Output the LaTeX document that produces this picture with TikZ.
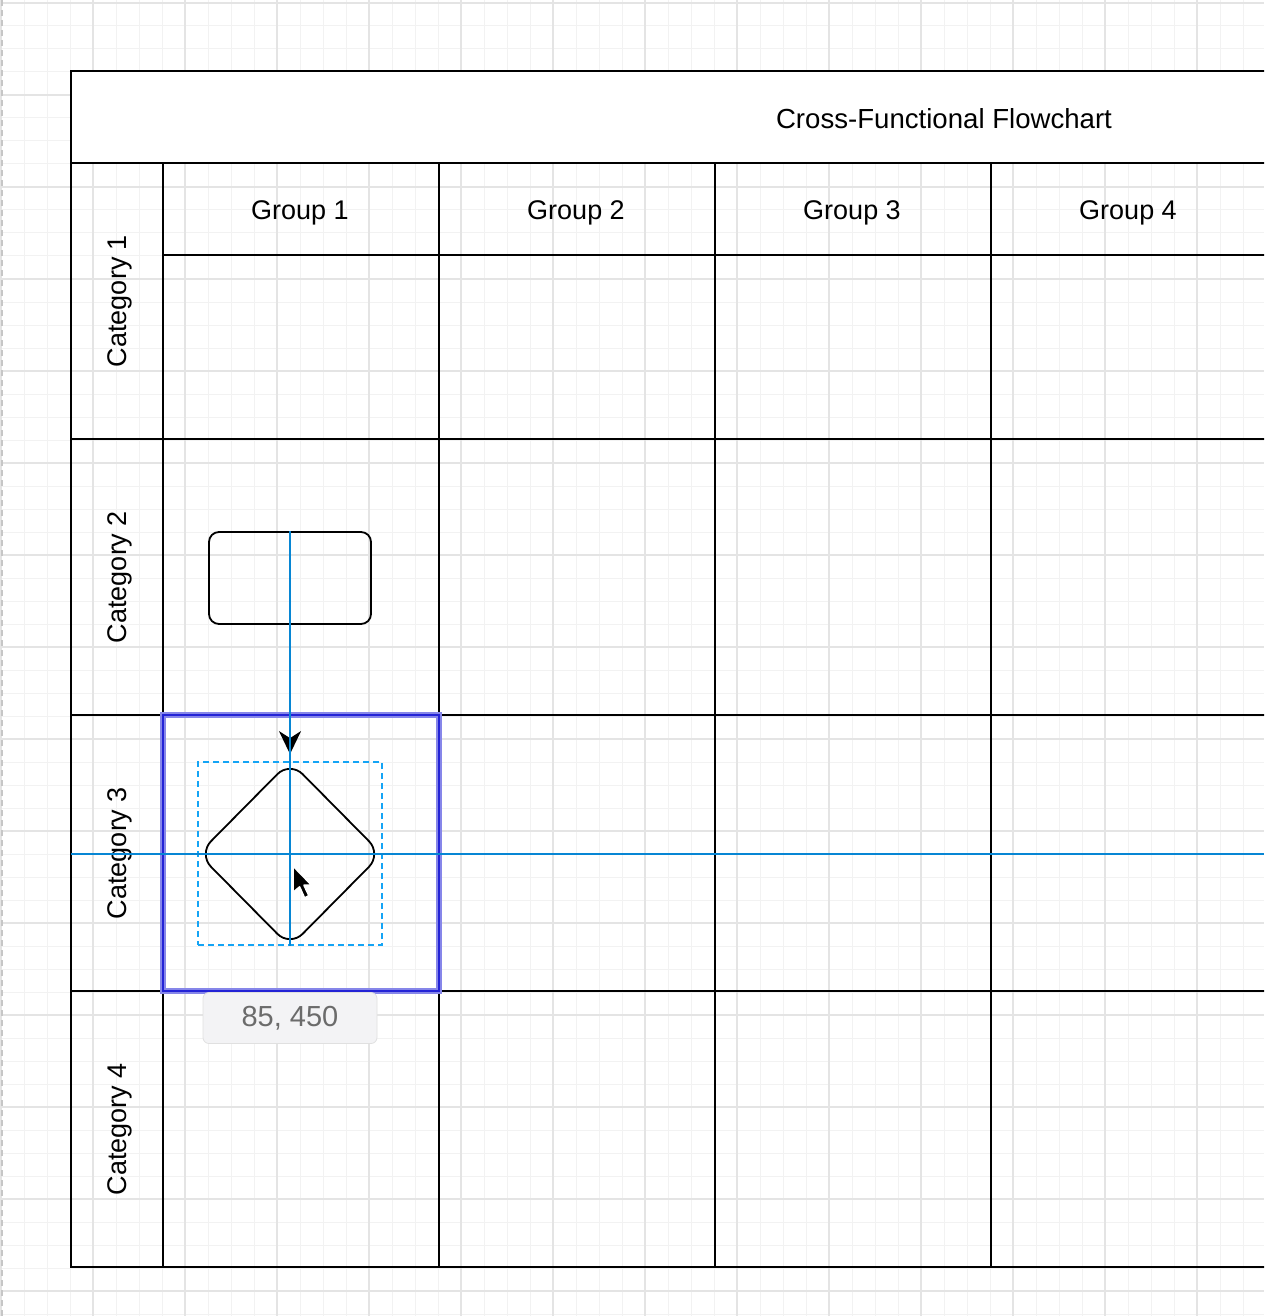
\documentclass[tikz,border=0pt]{standalone}
\usepackage{fontspec}
\setmainfont{Liberation Sans}
\usetikzlibrary{shapes.geometric}
\usetikzlibrary{arrows.meta}
\usepackage{xcolor}
\definecolor{gridminor}{HTML}{F2F2F2}
\definecolor{gridmajor}{HTML}{E4E4E4}
\definecolor{guideblue}{HTML}{0786D4}
\definecolor{selblue}{HTML}{14A4F5}
\definecolor{dropblue}{HTML}{2323D6}
\definecolor{tipfill}{HTML}{F3F3F5}
\definecolor{tipgray}{HTML}{6B6B6B}

\begin{document}
\begin{tikzpicture}[
    x=0.5pt, y=-0.5pt,
    lane/.style = {draw=black, line width=1pt},
    lbl/.style = {font=\fontsize{13.5}{16}\selectfont, inner sep=0pt},
    guide/.style = {draw=guideblue, line width=1pt},
    shp/.style = {draw=black, line width=0.9pt, inner sep=0pt}
                    ]
        \useasboundingbox (0,0) rectangle (1264,1316);
        \clip (0,0) rectangle (1264,1316);
        % background grid
        \fill[white] (0,0) rectangle (1264,1316);
        \foreach \gx in {1,24,...,1264}
            \draw[gridminor, line width=0.5pt] (\gx,0) -- (\gx,1316);
        \foreach \gy in {3,26,...,1316}
            \draw[gridminor, line width=0.5pt] (0,\gy) -- (1264,\gy);
        \foreach \gx in {1,93,...,1264}
            \draw[gridmajor, line width=0.8pt] (\gx,0) -- (\gx,1316);
        \foreach \gy in {3,95,...,1316}
            \draw[gridmajor, line width=0.8pt] (0,\gy) -- (1264,\gy);
        \draw[gray!45, line width=1pt, dash pattern=on 3pt off 2pt] (2,0) -- (2,1316);
        % the pool
        \fill[white] (71,71) rectangle (1300,163);
        \draw[lane] (1300,71) -- (71,71) -- (71,1267) -- (1300,1267);
        \foreach \y in {163,439,715,991}
            \draw[lane] (71,\y) -- (1300,\y);
        \draw[lane] (163,255) -- (1300,255);
        \foreach \x in {163,439,715,991}
            \draw[lane] (\x,163) -- (\x,1267);
        \node[lbl, font=\fontsize{13.8}{16}\selectfont] at (944,119) (title) {Cross-Functional Flowchart};
        \foreach \x/\n in {300/1, 576/2, 852/3, 1128/4}
            \node[lbl] at (\x,213) (grp\n) {Group \n};
        \foreach \y/\n in {301/1, 577/2, 853/3, 1129/4}
            \node[lbl, rotate=90] at (120,\y) (cat\n) {Category \n};
        % drop target
        \draw[dropblue!55, line width=3.2pt] (163,715) rectangle (439,991);
        \draw[dropblue, line width=1.4pt] (163,715) rectangle (439,991);
        % shapes
        \node[shp, rectangle, rounded corners=5pt, minimum width=81pt, minimum height=46pt] at (290,578) (box) {};
        \node[shp, diamond, rounded corners=9pt, minimum width=92pt, minimum height=93pt] at (290,854) (dec) {};
        \node[draw=selblue, line width=0.8pt, dash pattern=on 3pt off 2pt, minimum width=92pt, minimum height=91.5pt, inner sep=0pt] at (290,853.5) (sel) {};
        \draw[line width=1pt, -{Stealth[length=11.5pt, width=11pt, inset=3.5pt]}, shorten >=3pt] (box.south) -- (dec.north);
        % guides
        \coordinate (gl) at (71,854);
        \coordinate (gr) at (1264,854);
        \draw[guide] (box.north) -- (sel.south);
        \draw[guide] (gl) -- (gr);
        % tooltip
        \node[draw=black!12, fill=tipfill, rounded corners=3pt, minimum width=87pt, minimum height=25.5pt,
              text=tipgray, font=\fontsize{14.5}{17}\selectfont] at (290,1018) (tip) {85, 450};
        % pointer
        \begin{scope}[shift={(293,866)}, scale=1.1]
            \filldraw[fill=black, draw=white, line width=0.8pt, line join=round]
                (0,0) -- (0,24) -- (6,19) -- (10.5,29) -- (14.5,27) -- (10,17.5) -- (17,17.5) -- cycle;
        \end{scope}
    \end{tikzpicture}
\end{document}
